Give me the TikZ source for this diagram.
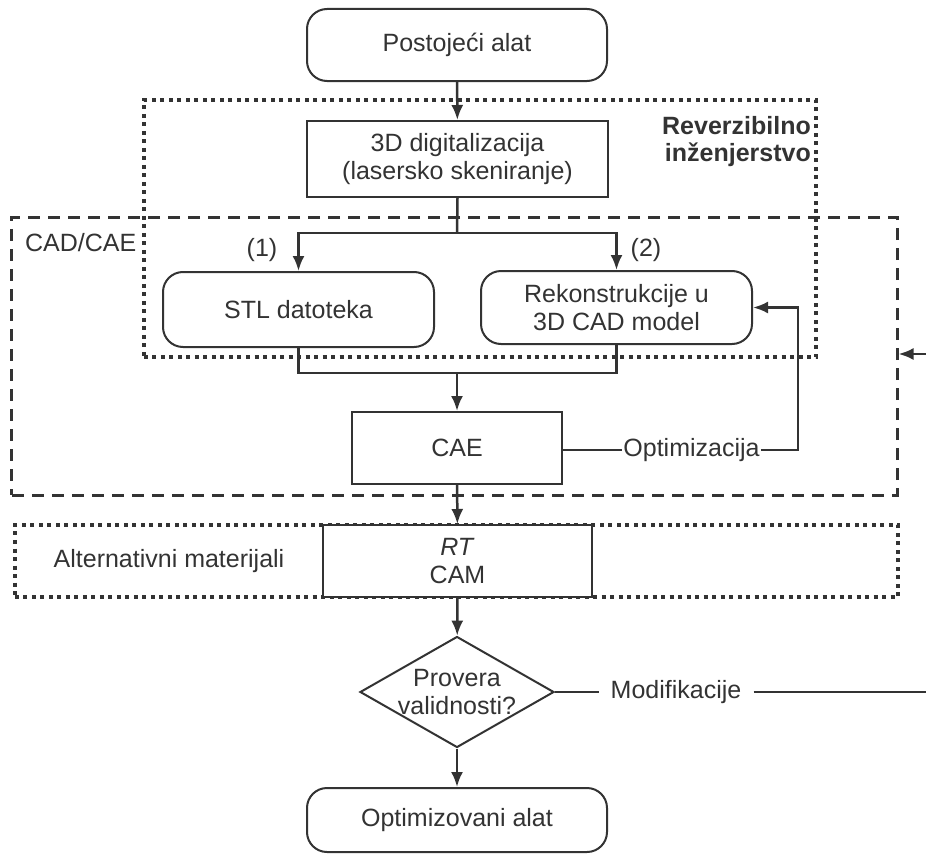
\documentclass[tikz,border=0pt]{standalone}
\usepackage{fontspec}
\setmainfont{Liberation Sans}
\usetikzlibrary{shapes.geometric,arrows.meta}
\definecolor{ink}{HTML}{333333}

\begin{document}
\begin{tikzpicture}[x=1bp,y=-1bp,
  font=\fontsize{25bp}{28bp}\selectfont,
  every node/.style={text=ink},
  lbl/.style={inner sep=0pt},
  conn/.style={draw=ink, line width=2.5bp},
  arr/.style={conn, -{Latex[length=15bp,width=12bp]}},
  box/.style={draw=ink, fill=white, line width=2bp, align=center, inner sep=0pt},
  rbox/.style={box, rounded corners=20bp},
  dashbox/.style={draw=ink, line width=3bp, dash pattern=on 12bp off 8bp, inner sep=0pt},
  dotbox/.style={draw=ink, line width=3.5bp, dash pattern=on 4bp off 4.5bp, inner sep=0pt},
]
\useasboundingbox (0,0) rectangle (926,855);

% grouping frames
\node[dashbox, minimum width=885bp, minimum height=278bp] (cadbox) at (454.5,356) {};
\node[dotbox, minimum width=672bp, minimum height=257bp] (revbox) at (480,228.5) {};
\node[dotbox, minimum width=883bp, minimum height=72bp] (altbox) at (456.5,561) {};

% frame labels
\node[lbl, anchor=base east] (revA) at (811,134) {\bfseries Reverzibilno};
\node[lbl, anchor=base east] (revB) at (811,161) {\bfseries inženjerstvo};
\node[lbl, anchor=west] (cadlbl) at (25,243) {CAD/CAE};
\node[lbl] (altlbl) at (169,561) {Alternativni materijali};

% process steps
\node[rbox, minimum width=300bp, minimum height=72bp] (top) at (457,45) {Postojeći alat};
\node[box, minimum width=301bp, minimum height=76bp] (dig) at (457.5,159) {3D digitalizacija\\(lasersko skeniranje)};
\node[rbox, minimum width=271bp, minimum height=75bp] (stl) at (298.5,309.5) {STL datoteka};
\node[rbox, minimum width=271bp, minimum height=73bp] (rek) at (616.5,307.5) {Rekonstrukcije u\\3D CAD model};
\node[box, minimum width=210bp, minimum height=72bp] (cae) at (457,448) {CAE};
\node[box, minimum width=269bp, minimum height=72bp] (cam) at (457.5,561) {\textit{RT}\\CAM};
\node[diamond, draw=ink, fill=white, line width=2bp, align=center, aspect=1.75,
      inner sep=-6bp, minimum width=194bp, minimum height=111bp] (dia) at (457,692) {Provera\\validnosti?};
\node[rbox, minimum width=300bp, minimum height=64bp] (opt) at (457,820) {Optimizovani alat};

% branch labels
\node[lbl] (b1) at (262,250) {(1)};
\node[lbl] (b2) at (646,250) {(2)};

% connectors
\coordinate (br) at (457,233);
\coordinate (mg) at (457,373);
\coordinate (oc) at (798,450);
\coordinate (rin) at (926,354);
\coordinate (rout) at (926,692);

\draw[arr] (top) -- (dig);
\draw[conn] (dig.south) -- (br);
\draw[arr] (br) -| (stl.north);
\draw[arr] (br) -| (rek.north);
\draw[conn] (stl.south) |- (mg) -| (rek.south);
\draw[arr] (mg) -- (cae.north);
\draw[arr] (cae) -- (cam);
\draw[arr] (cam) -- (dia);
\draw[arr] (dia) -- (opt);

\node[inner xsep=1bp] (optz) at (691.5,450) {Optimizacija};
\draw[conn] (cae.east |- optz) -- (optz.west);
\draw[arr] (optz.east) -- (oc) |- (rek.east);

\node[inner xsep=12bp] (modz) at (676,692) {Modifikacije};
\draw[conn] (dia.east) -- (modz.west);
\draw[conn] (modz.east) -- (rout);
\draw[arr] (rin) -- (cadbox.east |- rin);
\end{tikzpicture}
\end{document}
